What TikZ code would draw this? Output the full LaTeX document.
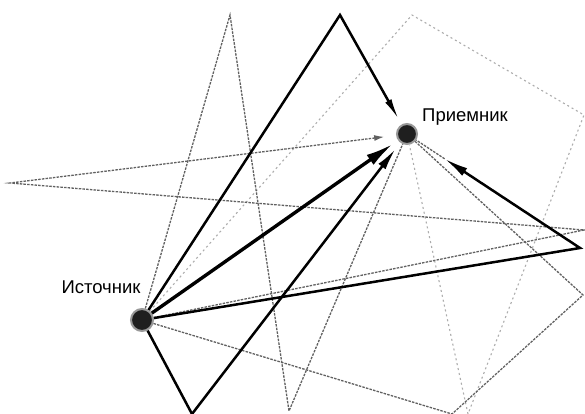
\documentclass[tikz,border=0pt]{standalone}
\usepackage{fontspec}
\setmainfont{Liberation Sans}
\usetikzlibrary{arrows.meta,calc}
\begin{document}
\begin{tikzpicture}[x=1pt,y=-1pt,
  blob/.style={circle,inner sep=0pt,minimum size=22pt,fill=black!88,draw=black!40,line width=2pt},
  ray/.style={draw=black,line width=2.5pt,line join=miter},
  mainray/.style={draw=black,line width=3.4pt},
  dray/.style={draw=black!62,line width=1.3pt,dash pattern=on 2.5pt off 1.2pt},
  fray/.style={draw=black!32,line width=1.1pt,dash pattern=on 2pt off 3pt},
  lbl/.style={font=\fontsize{18.5}{21}\selectfont,inner sep=0pt}]
\useasboundingbox (0,0) rectangle (585,414);
\fill[white] (0,0) rectangle (585,414);
% corner points
\coordinate (A1) at (340,15);
\coordinate (A2) at (580,248);
\coordinate (A3) at (192,414);
\coordinate (D1) at (230,15);
\coordinate (D2) at (289,411);
\coordinate (D3) at (584,230);
\coordinate (D4) at (10,183);
\coordinate (D5) at (452,414);
\coordinate (D6) at (583,295);
\coordinate (F1) at (412,15);
\coordinate (F2) at (584,115);
\coordinate (F3) at (468,414);
% source and receiver
\node[blob] (S) at (142,320) {};
\node[blob,minimum size=20pt] (R) at (407,134) {};
\node[lbl] (Slbl) at (101,287) {Источник};
\node[lbl] (Rlbl) at (465,117) {Приемник};
% faint rays
\draw[fray] (S) -- (F1) -- (F2) -- (F3) -- (R);
% dashed rays
\draw[dray] (S) -- (D1) -- (D2) -- (R);
\draw[dray,-{Latex[length=10pt,width=6pt]},shorten >=12pt] (S) -- (D3) -- (D4) -- (R);
\draw[dray] (S) -- (D5) -- (D6) -- (R);
% solid rays
\coordinate (T2) at ($(R)!45pt!(A2)$);
\draw[dray] (T2) -- (R);
\draw[ray,-{Latex[length=24pt,width=9pt]}] (S) -- (A2) -- (T2);
\draw[ray,-{Latex[length=22pt,width=7pt]},shorten >=5pt] (S) -- (A1) -- (R);
\draw[ray,-{Latex[length=22pt,width=9pt]},shorten >=8pt] (S) -- (A3) -- (R);
\draw[mainray,-{Latex[length=28pt,width=12pt]},shorten >=6pt] (S) -- (R);
\end{tikzpicture}
\end{document}
